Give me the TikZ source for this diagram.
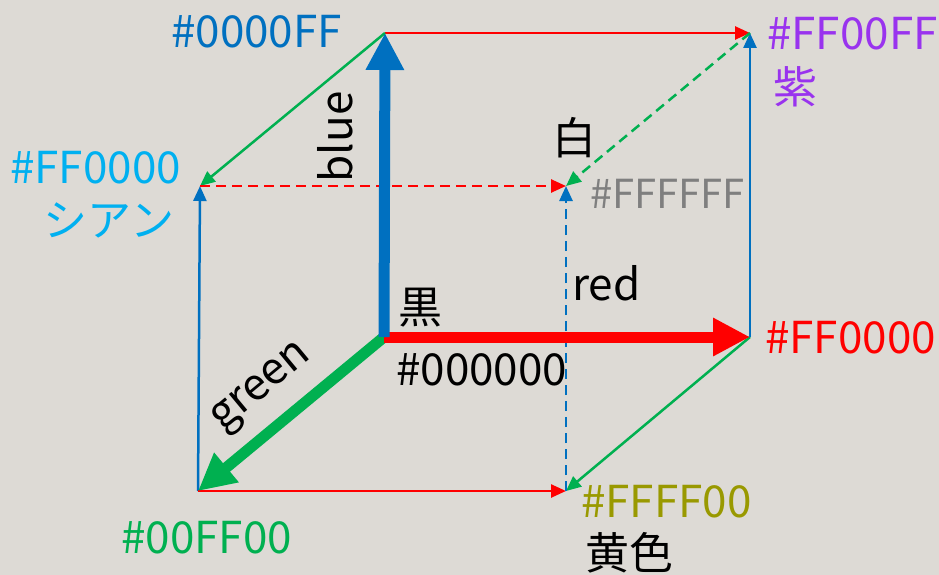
\documentclass[tikz,border=0pt]{standalone}
\usepackage{fontspec}
\setmainfont{Noto Sans CJK JP}
\usetikzlibrary{arrows.meta}
\definecolor{bgc}{HTML}{DDDAD5}
\definecolor{cblue}{HTML}{0070C0}
\definecolor{cred}{HTML}{FF0000}
\definecolor{cgreen}{HTML}{00B050}
\definecolor{ccyan}{HTML}{00B0F0}
\definecolor{cpurple}{HTML}{9933EE}
\definecolor{colive}{HTML}{999900}
\definecolor{cgray}{HTML}{7F7F7F}
\tikzset{
  axisarrow/.style={line width=11pt, line cap=butt, -{Triangle[length=37pt,width=36pt]}},
  edge/.style={line width=2.5pt, -{Triangle[length=15pt,width=13pt]}},
  hidden/.style={edge, dash pattern=on 10pt off 6pt},
  hexlbl/.style={inner sep=0pt, anchor=base west, font=\fontsize{44}{48}\selectfont},
  jplbl/.style={inner sep=0pt, anchor=center, text height=38pt, text depth=6pt, font=\fontsize{44}{48}\selectfont},
  axlbl/.style={inner sep=0pt, font=\fontsize{44}{48}\selectfont},
}
\begin{document}
\begin{tikzpicture}[x=1pt,y=-1pt]
\fill[bgc] (0,0) rectangle (939,575);
\useasboundingbox (0,0) rectangle (939,575);
% vertices
\coordinate (O) at (384,337);
\coordinate (B) at (385,33);
\coordinate (R) at (750,337);
\coordinate (G) at (198,491);
\coordinate (BG) at (200,186);
\coordinate (RB) at (750,33);
\coordinate (RG) at (566,491);
\coordinate (W) at (566,186);
% thin edges
\draw[edge, cred] (B) -- (RB);
\draw[edge, cgreen] (B) -- (BG);
\draw[edge, cblue] (G) -- (BG);
\draw[edge, cred] (G) -- (RG);
\draw[edge, cgreen] (R) -- (RG);
\draw[edge, cblue] (R) -- (RB);
\draw[hidden, cred] (BG) -- (W);
\draw[hidden, cblue] (RG) -- (W);
\draw[hidden, cgreen] (RB) -- (W);
% axes
\draw[axisarrow, cgreen] (O) -- (G);
\draw[axisarrow, cred] (O) -- (R);
\draw[axisarrow, cblue] (O) -- (B);
% labels
\node[hexlbl, text=cblue] (lB) at (171,48) {\#0000FF};
\node[hexlbl, text=ccyan] (lBG) at (10,183) {\#FF0000};
\node[jplbl, text=ccyan] (jBG) at (109,220) {シアン};
\node[axlbl, rotate=90] (ablue) at (335,137) {blue};
\node[jplbl] (jW) at (574,138) {白};
\node[hexlbl, text=cgray, font=\fontsize{40}{44}\selectfont] (lW) at (590,208) {\#FFFFFF};
\node[hexlbl, text=cpurple] (lRB) at (767,50) {\#FF00FF};
\node[jplbl, text=cpurple] (jRB) at (795,87) {紫};
\node[axlbl, anchor=base west] (ared) at (572,300) {red};
\node[jplbl] (jO) at (420,307) {黒};
\node[hexlbl] (lO) at (396,385) {\#000000};
\node[hexlbl, text=cred] (lR) at (765,353) {\#FF0000};
\node[axlbl, rotate=39.6] (agreen) at (263,389) {green};
\node[hexlbl, text=cgreen] (lG) at (121,553) {\#00FF00};
\node[hexlbl, text=colive] (lRG) at (581,517) {\#FFFF00};
\node[jplbl] (jRG) at (629,553) {黄色};
\end{tikzpicture}
\end{document}
